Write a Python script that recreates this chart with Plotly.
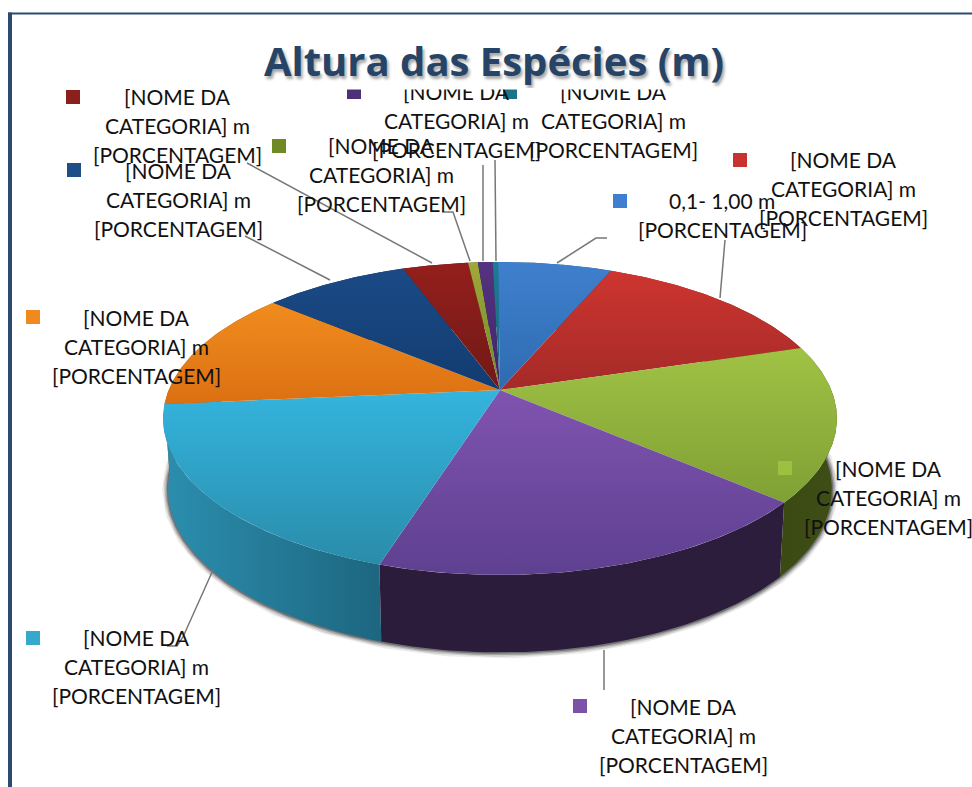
import numpy as np
import plotly.graph_objects as go

# ---- data ----
title = "Altura das Espécies (m)"
categories = ["0,1- 1,00 m", "Cat 2", "Cat 3", "Cat 4", "Cat 5", "Cat 6", "Cat 7", "Cat 8", "Cat 9", "Cat 10", "Cat 11"]
shares = [6.5, 13.9, 16.1, 18.5, 18.7, 12.6, 8.3, 3.75, 0.55, 0.85, 0.3]
top_colors = [("#3F80CE", "#2E6BB0"), ("#CE352F", "#A42A28"), ("#A0C244", "#7FA034"), ("#8054B0", "#5E4090"),
              ("#34B4DE", "#2A8CAA"), ("#F08C1E", "#DC7012"), ("#1B4A86", "#123C70"), ("#941F1C", "#701917"),
              ("#9FA83A", "#6F8A28"), ("#553280", "#3E2666"), ("#1C7C92", "#176A7E")]
wall_colors = [("#244F85", "#244F85"), ("#7A1E1C", "#7A1E1C"), ("#3A4A12", "#3E4E16"), ("#2A1C3A", "#2B1D3B"),
               ("#2B8EAE", "#1D6680"), ("#A85A10", "#A85A10"), ("#102F55", "#102F55"), ("#561412", "#561412"),
               ("#4E5F1A", "#4E5F1A"), ("#301E4A", "#301E4A"), ("#105060", "#105060")]
key_colors = ["#3F7FCF", "#C8322F", "#9CC040", "#7B52A8", "#35A8CC", "#F08A1E", "#1F4E86", "#8A1F1C", "#6F8A24", "#4E3078", "#1C7488"]
NAME_LINES = ["[NOME DA", "CATEGORIA] m", "[PORCENTAGEM]"]
label_lines = [["0,1- 1,00 m", "[PORCENTAGEM]"]] + [NAME_LINES] * 10

# ---- layout of the labels (pixels) ----
label_x = [722, 843, 888, 683, 136, 136, 178, 177, 381, 456, 613]
label_y = [200, 159, 468, 706, 637, 317, 170, 96, 145, 91, 91]
key_x = [620, 740, 785, 580, 33, 33, 74, 73, 279, 354, 510]
key_y = [201, 160, 468, 706, 638, 317, 170, 97, 146, 92, 92]
leaders = [[(607, 238), (596, 238), (557, 263)], [(725, 240), (720, 298)], [(604, 650), (604, 690)],
           [(213, 570), (183, 637), (177, 646), (167, 646)], [(247, 163), (432, 263)], [(245, 236), (330, 280)],
           [(442, 212), (453, 212), (470, 261)], [(483, 165), (483, 261)], [(495, 160), (496, 261)]]

# ---- projection of the disc ----
CX, CY, A, B, K = 500, 390, 331.3, 151.3, 0.182
DROP, SX, SY = 70, 0.985, 1.04
START = -0.4


def rim(theta):
    t = np.radians(theta)
    w = 1 + K * np.cos(t)
    return CX + A * np.sin(t) / w, CY - B * np.cos(t) / w


def rim_low(theta):
    x, y = rim(theta)
    return CX + SX * (x - CX), CY + DROP + SY * (y - CY)


edges = START + np.concatenate([[0], np.cumsum(shares)]) * 360 / sum(shares)
fig = go.Figure()

# soft shadow round the lower rim
all_t = np.linspace(80, 285, 300)
sx, sy = rim_low(all_t)
for width, alpha in [(12, 0.08), (9, 0.12), (6, 0.2), (3, 0.3)]:
    fig.add_trace(go.Scatter(x=sx, y=sy, mode="lines", line=dict(color=f"rgba(0,0,0,{alpha})", width=width),
                             hoverinfo="skip", showlegend=False))

# side walls, back to front
order = sorted(range(len(categories)), key=lambda i: -np.cos(np.radians((edges[i] + edges[i + 1]) / 2)))
for i in order:
    t = np.linspace(edges[i], edges[i + 1], 80)
    x1, y1 = rim(t)
    x2, y2 = rim_low(t)
    px = np.concatenate([x1, x2[::-1], x1[:1]])
    py = np.concatenate([y1, y2[::-1], y1[:1]])
    fig.add_trace(go.Scatter(x=px, y=py, mode="lines", line=dict(width=0), fill="toself", name=categories[i],
                             fillgradient=dict(type="horizontal", colorscale=[[0, wall_colors[i][0]], [1, wall_colors[i][1]]]),
                             hoverinfo="skip", showlegend=False))

# top surface (the y axis runs downwards, so the gradient's 0 end is the lower one)
for i, name in enumerate(categories):
    t = np.linspace(edges[i], edges[i + 1], 120)
    x, y = rim(t)
    px = np.concatenate([[CX], x, [CX]])
    py = np.concatenate([[CY], y, [CY]])
    fig.add_trace(go.Scatter(x=px, y=py, mode="lines", line=dict(width=0), fill="toself", name=name,
                             fillgradient=dict(type="vertical",
                                               colorscale=[[0, top_colors[i][1]], [1, top_colors[i][0]]]),
                             hoverinfo="text", text=f"{name}: {shares[i]}%", showlegend=False))

# leader lines
for pts in leaders:
    fig.add_trace(go.Scatter(x=[p[0] for p in pts], y=[p[1] for p in pts], mode="lines",
                             line=dict(color="#777777", width=1.5), hoverinfo="skip", showlegend=False))

# legend keys
fig.add_trace(go.Scatter(x=key_x, y=key_y, mode="markers", hoverinfo="skip", showlegend=False,
                         marker=dict(symbol="square", size=14, color=key_colors, line=dict(width=0))))

# labels, one annotation per text line to keep the line pitch
annotations = []
for i, lines in enumerate(label_lines):
    for j, line in enumerate(lines):
        annotations.append(dict(x=label_x[i], y=label_y[i] + j * 29.3, text=line, showarrow=False,
                                xanchor="center", yanchor="middle",
                                font=dict(family="Lato", size=21, color="#111111")))
annotations.append(dict(x=494, y=60, text=f"<b>{title}</b>", showarrow=False, xanchor="center", yanchor="middle",
                        width=680, height=56, bgcolor="#FFFFFF",
                        font=dict(family="Open Sans", size=40, color="#264468",
                                  shadow="2px 3px 3px rgba(0,0,0,0.35)")))

shapes = [dict(type="rect", x0=8, x1=12, y0=12.5, y1=787, fillcolor="#2C4A70", line=dict(width=0)),
          dict(type="rect", x0=8, x1=972, y0=12.5, y1=14.5, fillcolor="#2C4A70", line=dict(width=0))]

fig.update_layout(width=972, height=787, margin=dict(l=0, r=0, t=0, b=0), autosize=False,
                  paper_bgcolor="white", plot_bgcolor="white", showlegend=False,
                  xaxis=dict(range=[0, 972], visible=False, fixedrange=True),
                  yaxis=dict(range=[787, 0], visible=False, fixedrange=True),
                  annotations=annotations, shapes=shapes)
fig.write_html("out.html", config=dict(displayModeBar=False),
               post_script="document.body.style.margin='0';document.documentElement.style.overflow='hidden';")
